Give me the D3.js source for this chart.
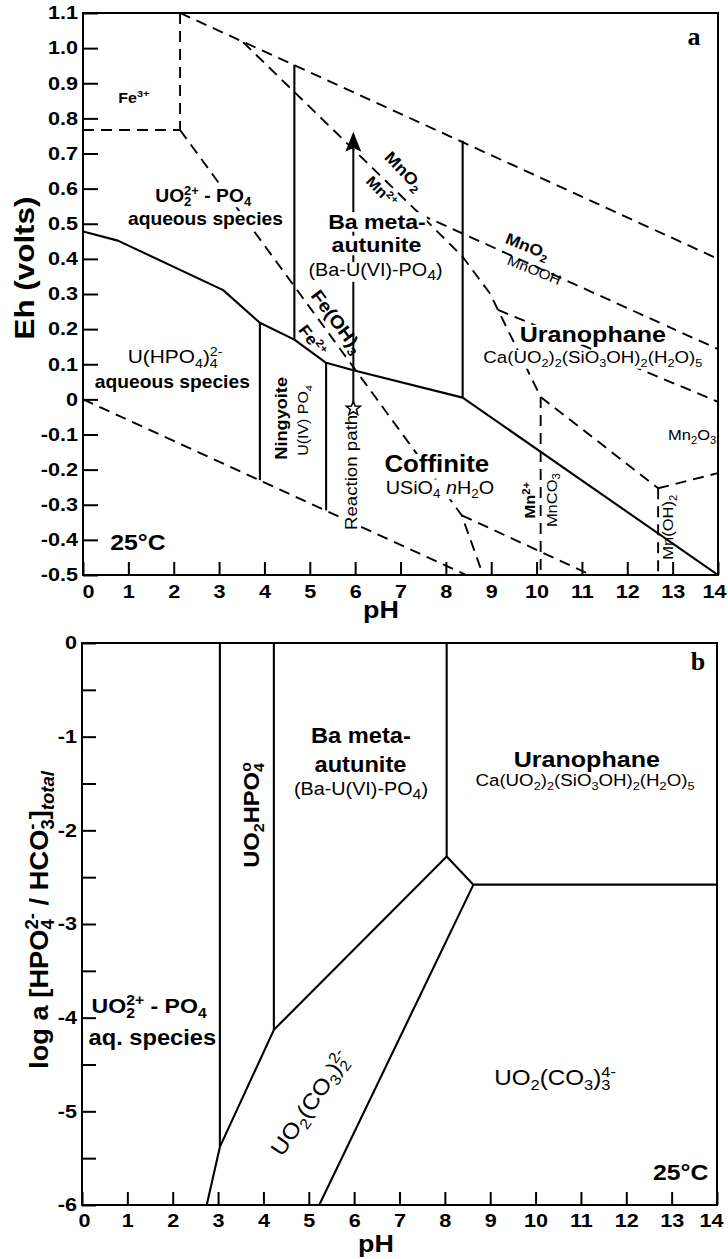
<!DOCTYPE html>
<html>
<head>
<meta charset="utf-8">
<script src="https://cdn.jsdelivr.net/npm/d3@7"></script>
<style>
  html, body { margin: 0; padding: 0; background: #fff; }
  svg { display: block; }
</style>
</head>
<body>
<svg id="chart" width="728" height="1259"></svg>
<script>
// ---------------- data ----------------
const PH_TICKS = [0, 1, 2, 3, 4, 5, 6, 7, 8, 9, 10, 11, 12, 13, 14];
const EH_TICKS = [1.1, 1.0, 0.9, 0.8, 0.7, 0.6, 0.5, 0.4, 0.3, 0.2, 0.1, 0, -0.1, -0.2, -0.3, -0.4, -0.5];
const EH_TICK_LABELS = ["1.1", "1.0", "0.9", "0.8", "0.7", "0.6", "0.5", "0.4", "0.3", "0.2", "0.1", "0",
                        "-0.1", "-0.2", "-0.3", "-0.4", "-0.5"];
const LOGA_TICKS = [0, -0.5, -1, -1.5, -2, -2.5, -3, -3.5, -4, -4.5, -5, -5.5, -6];
const LOGA_TICK_LABELS = ["0", "", "-1", "", "-2", "", "-3", "", "-4", "", "-5", "", "-6"];

// Panel a: U(VI)/U(IV) boundary (pH, Eh)
const uRedoxBoundary = [[0, 0.478], [0.77, 0.452], [3.09, 0.311], [3.9, 0.218], [4.66, 0.17],
                        [5.36, 0.104], [5.96, 0.083], [8.37, 0.005], [14, -0.5]];
// Panel a: vertical solid-phase boundaries [pH, Eh top, Eh bottom]
const uVerticals = [[3.9, 0.218, -0.23], [4.66, 0.953, 0.17], [5.36, 0.104, -0.316], [8.37, 0.736, 0.005]];
// Water stability limits
const waterUpper = [[2.14, 1.1], [14, 0.40]];
const waterLower = [[0, 0], [8.45, -0.5]];
// Fe boundaries
const feBoundaries = [
  [[0, 0.767], [2.14, 0.767]],
  [[2.14, 1.1], [2.14, 0.767]],
  [[2.14, 0.767], [8.35, -0.33], [8.82, -0.5]],
  [[8.35, -0.33], [11.2, -0.5]]
];
// Mn boundaries
const mnBoundaries = [
  [[3.53, 1.017], [7.43, 0.527], [8.37, 0.406], [8.97, 0.302], [10.09, 0.007]],
  [[7.43, 0.527], [14, 0.143]],
  [[9.15, 0.255], [14, -0.007]],
  [[10.09, 0.007], [10.09, -0.5]],
  [[10.09, 0.007], [12.68, -0.253]],
  [[12.68, -0.253], [12.68, -0.5]],
  [[12.68, -0.253], [14, -0.21]]
];
// Reaction path: pH, start Eh (star), end Eh (arrow tip)
const reactionPath = [5.96, -0.026, 0.762];

// Panel b: field boundaries (pH, log a)
const fieldBoundariesB = [
  [[2.75, -6], [3.04, -5.38], [4.23, -4.13], [8.04, -2.28], [8.63, -2.58], [14, -2.58]],
  [[3.04, 0], [3.04, -5.38]],
  [[4.23, 0], [4.23, -4.13]],
  [[8.04, 0], [8.04, -2.28]],
  [[8.63, -2.58], [5.23, -6]]
];

// ---------------- setup ----------------
const SANS = "'Liberation Sans', Arial, Helvetica, sans-serif";
const SERIF = "'Liberation Serif', 'Times New Roman', serif";
const svg = d3.select('#chart');

const xA = d3.scaleLinear().domain([0, 14]).range([83, 718]);
const yA = d3.scaleLinear().domain([-0.5, 1.1]).range([575, 13]);
const xB = d3.scaleLinear().domain([0, 14]).range([82, 717]);
const yB = d3.scaleLinear().domain([-6, 0]).range([1205, 643]);

const defs = svg.append('defs');
function clip(id, x, y) {
  defs.append('clipPath').attr('id', id).append('rect')
    .attr('x', x.range()[0]).attr('y', y.range()[1])
    .attr('width', x.range()[1] - x.range()[0]).attr('height', y.range()[0] - y.range()[1]);
}
clip('clipA', xA, yA);
clip('clipB', xB, yB);

// rich text label: parts are strings or {sub, sup, t, italic, weight}
function label(parent, px, py, parts, o = {}) {
  const size = o.size || 16;
  const sx = o.sx || 1.1;
  let tf = `translate(${px},${py}) rotate(${o.rotate || 0})`;
  if (o.vc) tf += ` translate(0,${(size * 0.35).toFixed(2)})`;
  tf += ` scale(${sx},1)`;
  const g = parent.append('g').attr('transform', tf);
  const text = g.append('text')
    .attr('text-anchor', o.anchor || 'middle')
    .attr('font-family', o.family || SANS)
    .attr('font-size', size)
    .attr('font-weight', o.weight || 'bold')
    .attr('fill', '#000');
  const small = size * (o.scr || 0.68);
  let cur = 0, pend = 0;
  const put = (s, off, sm, p) => {
    const ts = text.append('tspan').text(s).attr('dy', (off - cur).toFixed(2));
    cur = off;
    if (sm) ts.attr('font-size', small.toFixed(2));
    if (pend) { ts.attr('dx', pend.toFixed(2)); pend = 0; }
    if (p && p.italic) ts.attr('font-style', 'italic');
    if (p && p.weight) ts.attr('font-weight', p.weight);
    return ts;
  };
  const supOff = -size * 0.38, subOff = size * 0.24;
  parts.forEach(p => {
    if (typeof p === 'string') { put(p, 0, false); return; }
    if (p.sup != null && p.sub != null) {
      const a = put(p.sup, supOff, true, p);
      const wa = a.node().getComputedTextLength();
      pend = -wa;
      const b = put(p.sub, subOff, true, p);
      const wb = b.node().getComputedTextLength();
      pend = Math.max(0, wa - wb);
    } else if (p.sup != null) {
      put(p.sup, supOff, true, p);
    } else if (p.sub != null) {
      put(p.sub, subOff, true, p);
    } else {
      put(p.t, 0, false, p);
    }
  });
  if (o.knock !== false) {
    const bb = text.node().getBBox();
    g.insert('rect', 'text')
      .attr('x', bb.x - 1).attr('y', bb.y + size * 0.12)
      .attr('width', bb.width + 2).attr('height', Math.max(0, bb.height - size * 0.2))
      .attr('fill', '#fff');
  }
  return g;
}

function drawLines(g, sets, x, y, dashed) {
  const line = d3.line().x(d => x(d[0])).y(d => y(d[1]));
  g.selectAll(null).data(sets).join('path')
    .attr('d', line)
    .attr('fill', 'none')
    .attr('stroke', '#000')
    .attr('stroke-width', dashed ? 1.9 : 2.1)
    .attr('stroke-dasharray', dashed ? '11,7' : null)
    .attr('stroke-linejoin', 'round');
}

function styleAxis(g, sx, pad, left) {
  g.select('.domain').remove();
  g.selectAll('.tick line').attr('stroke', '#000').attr('stroke-width', 2);
  const t = g.selectAll('.tick text')
    .attr('font-family', SANS).attr('font-size', 18).attr('font-weight', 'bold').attr('fill', '#000')
    .attr('transform', `scale(${sx},1)`);
  if (left) t.attr('x', -pad / sx);
}

function starPath(cx, cy, R, r) {
  const pts = [];
  for (let i = 0; i < 10; i++) {
    const a = -Math.PI / 2 + i * Math.PI / 5;
    const rr = i % 2 ? r : R;
    pts.push([cx + rr * Math.cos(a), cy + rr * Math.sin(a)]);
  }
  return 'M' + pts.map(p => p.map(v => v.toFixed(2)).join(',')).join('L') + 'Z';
}

// ================= Panel a: Eh-pH =================
const gA = svg.append('g');
const linesA = gA.append('g').attr('clip-path', 'url(#clipA)');
drawLines(linesA, [waterUpper, waterLower], xA, yA, true);
drawLines(linesA, feBoundaries, xA, yA, true);
drawLines(linesA, mnBoundaries, xA, yA, true);
drawLines(linesA, [uRedoxBoundary], xA, yA, false);
drawLines(linesA, uVerticals.map(d => [[d[0], d[1]], [d[0], d[2]]]), xA, yA, false);

// reaction path with arrow and starting star
const rpx = xA(reactionPath[0]);
const rpStart = yA(reactionPath[1]);
const rpTip = yA(reactionPath[2]);
linesA.append('line')
  .attr('x1', rpx).attr('x2', rpx)
  .attr('y1', rpStart - 7).attr('y2', rpTip + 16)
  .attr('stroke', '#000').attr('stroke-width', 2);
linesA.append('path')
  .attr('d', `M${rpx},${rpTip}L${rpx - 8},${rpTip + 20}L${rpx},${rpTip + 16}L${rpx + 8},${rpTip + 20}Z`)
  .attr('fill', '#000');

const labA = gA.append('g');
label(labA, xA(1.12), yA(0.844), ['Fe', { sup: '3+' }], { size: 14.5 });
label(labA, xA(2.65), yA(0.563), ['UO', { sub: '2', sup: '2+' }, ' - PO', { sub: '4' }], { size: 17.5 });
label(labA, xA(2.70), yA(0.496), ['aqueous species'], { size: 17.5 });
label(labA, xA(6.48), yA(0.486), ['Ba meta-'], { size: 21 });
label(labA, xA(6.47), yA(0.419), ['autunite'], { size: 21 });
label(labA, xA(6.45), yA(0.351), ['(Ba-U(VI)-PO', { sub: '4' }, ')'], { size: 18, weight: 'normal', scr: 0.8 });
label(labA, xA(7.08), yA(0.650), ['MnO', { sub: '2' }], { size: 16.5, rotate: 46, vc: true, knock: false });
label(labA, xA(6.58), yA(0.592), ['Mn', { sup: '2+' }], { size: 15, rotate: 46, vc: true, knock: false });
label(labA, xA(9.80), yA(0.436), ['MnO', { sub: '2' }], { size: 16, rotate: 22, vc: true, knock: false });
label(labA, xA(9.95), yA(0.368), ['MnOOH'], { size: 14, rotate: 22, vc: true, weight: 'normal', knock: false });
label(labA, xA(11.24), yA(0.164), ['Uranophane'], { size: 22, sx: 1.14 });
label(labA, xA(11.24), yA(0.103),
  ['Ca(UO', { sub: '2' }, ')', { sub: '2' }, '(SiO', { sub: '3' }, 'OH)', { sub: '2' }, '(H', { sub: '2' }, 'O)', { sub: '5' }],
  { size: 17, weight: 'normal' });
label(labA, xA(2.03), yA(0.103), ['U(HPO', { sub: '4' }, ')', { sub: '4', sup: '2-' }], { size: 19, weight: 'normal' });
label(labA, xA(1.97), yA(0.032), ['aqueous species'], { size: 17.5 });
label(labA, xA(4.38), yA(-0.054), ['Ningyoite'], { size: 16.5, rotate: -90, vc: true });
label(labA, xA(4.857), yA(-0.06), ['U(IV) PO', { sub: '4' }], { size: 14.5, rotate: -90, vc: true, weight: 'normal' });
label(labA, xA(5.60), yA(0.222), ['Fe(OH)', { sub: '3' }], { size: 18, rotate: 53, vc: true, knock: false });
label(labA, xA(5.06), yA(0.168), ['Fe', { sup: '2+' }], { size: 16, rotate: 53, vc: true, knock: false });
label(labA, xA(5.92), yA(-0.208), ['Reaction path'], { size: 17, rotate: -90, vc: true, weight: 'normal' });
label(labA, xA(7.80), yA(-0.207), ['Coffinite'], { size: 23.5 });
label(labA, xA(7.87), yA(-0.268), ['USiO', { sub: '4' }, ' ', { t: 'n', italic: true }, 'H', { sub: '2' }, 'O'],
  { size: 18, weight: 'normal' });
label(labA, xA(9.855), yA(-0.287), ['Mn', { sup: '2+' }], { size: 15, rotate: -90, vc: true, knock: false });
label(labA, xA(10.33), yA(-0.287), ['MnCO', { sub: '3' }], { size: 15, rotate: -90, vc: true, weight: 'normal', knock: false });
label(labA, xA(12.9), yA(-0.364), ['Mn(OH)', { sub: '2' }], { size: 15, rotate: -90, vc: true, weight: 'normal', knock: false });
label(labA, xA(13.43), yA(-0.117), ['Mn', { sub: '2' }, 'O', { sub: '3' }], { size: 15, weight: 'normal' });
label(labA, xA(1.21), yA(-0.43), ['25°C'], { size: 22.5 });
label(labA, xA(13.47), yA(1.009), ['a'], { size: 26, family: SERIF, sx: 1, knock: false });

// star at the start of the reaction path
gA.append('path')
  .attr('d', starPath(rpx, rpStart, 7.5, 3.2))
  .attr('fill', '#fff').attr('stroke', '#000').attr('stroke-width', 1.5).attr('stroke-linejoin', 'miter');

// frame and axes
gA.append('rect')
  .attr('x', xA.range()[0]).attr('y', yA.range()[1])
  .attr('width', xA.range()[1] - xA.range()[0]).attr('height', yA.range()[0] - yA.range()[1])
  .attr('fill', 'none').attr('stroke', '#000').attr('stroke-width', 2);

const axAx = gA.append('g').attr('transform', `translate(0,${yA.range()[0]})`)
  .call(d3.axisBottom(xA).tickValues(PH_TICKS).tickSize(-13).tickPadding(10).tickFormat(d3.format('d')));
styleAxis(axAx, 1.2, 0, false);
axAx.selectAll('.tick text').filter(d => d === 0).attr('x', 5 / 1.2);
axAx.selectAll('.tick text').filter(d => d === 14).attr('x', -4 / 1.2);

const axAy = gA.append('g').attr('transform', `translate(${xA.range()[0]},0)`)
  .call(d3.axisLeft(yA).tickValues(EH_TICKS).tickSize(-15).tickPadding(5)
    .tickFormat((d, i) => EH_TICK_LABELS[i]));
styleAxis(axAy, 1.2, 5, true);

label(gA, 381, 618, ['pH'], { size: 24, sx: 1.12, knock: false });
label(gA, 34, 268, ['Eh (volts)'], { size: 28, sx: 1.12, rotate: -90, knock: false });

// ================= Panel b: log a vs pH =================
const gB = svg.append('g');
const linesB = gB.append('g').attr('clip-path', 'url(#clipB)');
drawLines(linesB, fieldBoundariesB, xB, yB, false);

const labB = gB.append('g');
label(labB, xB(6.15), yB(-1.07), ['Ba meta-'], { size: 21.5 });
label(labB, xB(6.14), yB(-1.374), ['autunite'], { size: 21.5 });
label(labB, xB(6.15), yB(-1.62), ['(Ba-U(VI)-PO', { sub: '4' }, ')'], { size: 18, weight: 'normal', scr: 0.8 });
label(labB, xB(3.74), yB(-1.836), ['UO', { sub: '2' }, 'HPO', { sub: '4', sup: 'o' }], { size: 21.5, rotate: -90, vc: true });
label(labB, xB(11.13), yB(-1.32), ['Uranophane'], { size: 22, sx: 1.14 });
label(labB, xB(11.09), yB(-1.53),
  ['Ca(UO', { sub: '2' }, ')', { sub: '2' }, '(SiO', { sub: '3' }, 'OH)', { sub: '2' }, '(H', { sub: '2' }, 'O)', { sub: '5' }],
  { size: 17, weight: 'normal' });
label(labB, xB(1.48), yB(-3.95), ['UO', { sub: '2', sup: '2+' }, ' - PO', { sub: '4' }], { size: 21 });
label(labB, xB(1.55), yB(-4.29), ['aq. species'], { size: 21.5 });
label(labB, xB(5.03), yB(-4.91), ['UO', { sub: '2' }, '(CO', { sub: '3' }, ')', { sub: '2', sup: '2-' }],
  { size: 22, rotate: -55.5, vc: true, weight: 'normal' });
label(labB, xB(10.43), yB(-4.72), ['UO', { sub: '2' }, '(CO', { sub: '3' }, ')', { sub: '3', sup: '4-' }],
  { size: 22, weight: 'normal' });
label(labB, xB(13.2), yB(-5.73), ['25°C'], { size: 22.5 });
label(labB, xB(13.58), yB(-0.29), ['b'], { size: 26, family: SERIF, sx: 1, knock: false });

gB.append('rect')
  .attr('x', xB.range()[0]).attr('y', yB.range()[1])
  .attr('width', xB.range()[1] - xB.range()[0]).attr('height', yB.range()[0] - yB.range()[1])
  .attr('fill', 'none').attr('stroke', '#000').attr('stroke-width', 2);

const axBx = gB.append('g').attr('transform', `translate(0,${yB.range()[0]})`)
  .call(d3.axisBottom(xB).tickValues(PH_TICKS).tickSize(-13).tickPadding(9).tickFormat(d3.format('d')));
styleAxis(axBx, 1.2, 0, false);
axBx.selectAll('.tick text').filter(d => d === 0).attr('x', 2 / 1.2);
axBx.selectAll('.tick text').filter(d => d === 14).attr('x', -6 / 1.2);

const axBy = gB.append('g').attr('transform', `translate(${xB.range()[0]},0)`)
  .call(d3.axisLeft(yB).tickValues(LOGA_TICKS).tickSize(-14).tickPadding(5)
    .tickFormat((d, i) => LOGA_TICK_LABELS[i]));
styleAxis(axBy, 1.2, 5, true);

label(gB, 376, 1252, ['pH'], { size: 24, sx: 1.12, knock: false });
label(gB, 48, 920,
  ['log a [HPO', { sub: '4', sup: '2-' }, ' / HCO', { sub: '3', sup: '-' }, ']', { sub: 'total', italic: true }],
  { size: 26, sx: 1.05, rotate: -90, knock: false });
</script>
</body>
</html>
